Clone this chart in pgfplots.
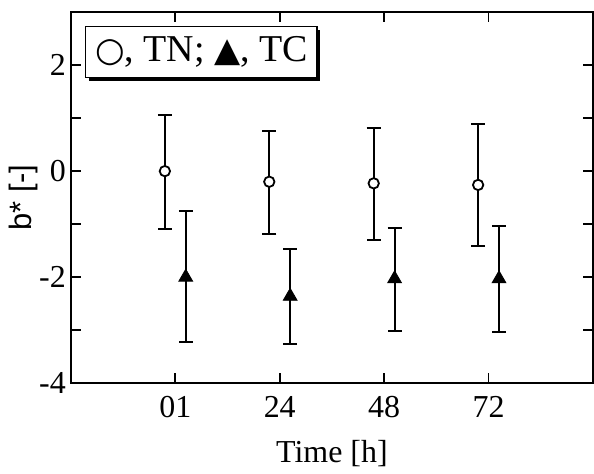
\documentclass[border=0pt]{standalone}
\usepackage{fontspec}
\setmainfont{Liberation Serif}
\newfontfamily\labelsans{Liberation Sans}
\newfontfamily\symfont{DejaVu Sans}
\usepackage{pgfplots}
\pgfplotsset{compat=1.18}
\usetikzlibrary{calc, shadows}

\pgfplotstableread{
x    y      ep    em
0.9  0.00   1.05  1.10
1.9  -0.20  0.95  0.99
2.9  -0.23  1.05  1.07
3.9  -0.26  1.14  1.16
}\tn
\pgfplotstableread{
x    y      ep    em
1.1  -2.00  1.25  1.23
2.1  -2.36  0.89  0.89
3.1  -2.03  0.96  0.99
4.1  -2.03  1.00  1.00
}\tc

\begin{document}
\begin{tikzpicture}
  \begin{axis}[
      name=ax,
      scale only axis,
      width=261.5pt, height=186pt,
      xmin=0, xmax=5, ymin=-4, ymax=3,
      xtick={1,2,3,4}, xticklabels={01,24,48,72},
      ytick={-4,-2,0,2}, minor ytick={-3,-1,1},
      tick align=inside,
      major tick length=5pt, minor tick length=5pt,
      axis line style={line width=1pt},
      every tick/.style={black, line width=0.9pt},
      /pgf/number format/assume math mode=true,
      tick label style={font=\fontsize{16}{18}\selectfont},
      xticklabel style={yshift=-3pt},
      yticklabel style={xshift=1pt},
      xlabel={Time [h]},
      xlabel style={font=\fontsize{16}{18}\selectfont, at={(axis description cs:0.5,-0.19)}, anchor=center},
      ylabel={\labelsans b* [-]},
      ylabel style={font=\fontsize{15.5}{17}\selectfont, at={(axis description cs:-0.09,0.5)}, anchor=center, rotate=0},
      error bars/y dir=both, error bars/y explicit,
      error bars/error bar style={line width=1pt, black},
      error bars/error mark options={rotate=90, mark size=3.5pt, line width=1pt, black},
    ]
    \addplot[only marks, mark=*, mark size=2.6pt, mark options={fill=white, draw=black, line width=0.9pt}]
      table[x=x, y=y, y error plus=ep, y error minus=em] {\tn};
    \addplot[only marks, mark=triangle*, mark size=4pt, mark options={fill=black, draw=black}]
      table[x=x, y=y, y error plus=ep, y error minus=em] {\tc};
    \node[draw=black, fill=white, line width=0.8pt, minimum width=116pt, minimum height=25.5pt,
          inner sep=1pt, font=\fontsize{19}{21}\selectfont,
          drop shadow={opacity=1, fill=black, shadow xshift=1.6pt, shadow yshift=-1.6pt}]
      at (axis description cs:0.25,0.892) {{\symfont\fontsize{17}{19}\selectfont ○}, TN; {\symfont\fontsize{17}{19}\selectfont ▲}, TC};
  \end{axis}
  \useasboundingbox ($(ax.south west)+(-35.5pt,-38pt)$) rectangle ($(ax.north east)+(0pt,6pt)$);
\end{tikzpicture}
\end{document}
